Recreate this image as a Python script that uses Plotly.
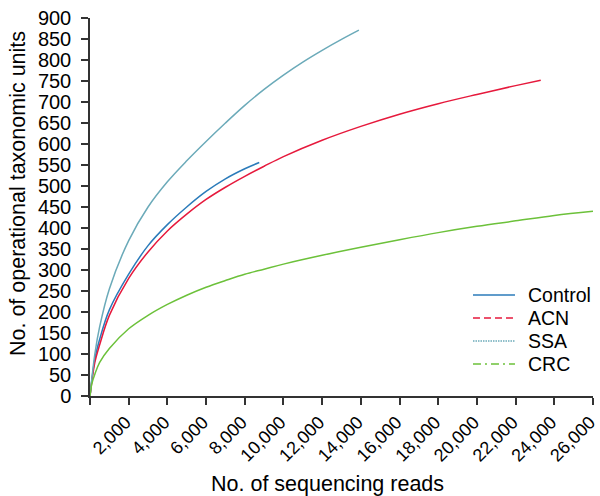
import plotly.graph_objects as go

# ---- data ----
control_x = [0, 250, 500, 1000, 2000, 3000, 4000, 5000, 6000, 7000, 8000, 8750]
control_y = [0, 88, 135, 205, 290, 358, 408, 450, 487, 517, 541, 556]

acn_x = [0, 250, 500, 1000, 2000, 3000, 4000, 5000, 6000, 7000, 8000, 9000, 10000,
         12000, 14000, 16000, 18000, 20000, 22000, 23300]
acn_y = [0, 80, 122, 192, 280, 343, 393, 433, 468, 497, 523, 547, 570,
         609, 642, 671, 696, 718, 739, 752]

ssa_x = [0, 250, 500, 1000, 2000, 3000, 4000, 5000, 6000, 7000, 8000, 9000, 10000,
         11000, 12000, 13000, 13900]
ssa_y = [0, 100, 165, 255, 370, 450, 510, 560, 606, 650, 692, 730, 764,
         795, 823, 849, 871]

crc_x = [0, 100, 250, 500, 1000, 2000, 3000, 4000, 5000, 6000, 7000, 8000, 9000, 10000,
         12000, 14000, 16000, 18000, 20000, 22000, 24000, 26000]
crc_y = [0, 30, 52, 80, 113, 160, 192, 218, 240, 259, 275, 290, 302, 314,
         335, 354, 372, 389, 404, 417, 430, 440]

series_names = ["Control", "ACN", "SSA", "CRC"]
x_tick_vals = [0, 2000, 4000, 6000, 8000, 10000, 12000, 14000, 16000, 18000,
               20000, 22000, 24000, 26000]
x_tick_text = ["", "2,000", "4,000", "6,000", "8,000", "10,000", "12,000", "14,000",
               "16,000", "18,000", "20,000", "22,000", "24,000", "26,000"]
y_tick_vals = list(range(0, 901, 50))
x_title = "No. of sequencing reads"
y_title = "No. of operational taxonomic units"

colors = ["#2b7bba", "#e6193c", "#6baab9", "#6cc13a"]
legend_dash = ["solid", "7px,4px", "1.5px,1px", "8px,4px,2px,4px"]

FONT = "Liberation Sans, Arial, sans-serif"

fig = go.Figure()
all_data = [(control_x, control_y), (acn_x, acn_y), (ssa_x, ssa_y), (crc_x, crc_y)]
for (xs, ys), name, c in zip(all_data, series_names, colors):
    fig.add_trace(go.Scatter(x=xs, y=ys, mode="lines", name=name, showlegend=False,
                             line=dict(color=c, width=1.5, shape="spline", smoothing=1.0)))

# manual legend (compact spacing, dashed samples as in the reference)
leg_x0, leg_x1, leg_tx = 0.7614, 0.8449, 0.8668
leg_y = [0.2672, 0.2063, 0.1455, 0.0847]
shapes, annotations = [], []
for name, c, d, yy in zip(series_names, colors, legend_dash, leg_y):
    shapes.append(dict(type="line", xref="paper", yref="paper", x0=leg_x0, x1=leg_x1,
                       y0=yy, y1=yy, line=dict(color=c, width=1.5, dash=d)))
    annotations.append(dict(text=name, xref="paper", yref="paper", x=leg_tx, y=yy,
                            xanchor="left", yanchor="middle", showarrow=False,
                            font=dict(size=19.5, color="black")))

# axis titles (placed as in the reference)
annotations.append(dict(text=x_title, xref="paper", yref="paper", x=0.472, y=-0.2328,
                        xanchor="center", yanchor="middle", showarrow=False,
                        font=dict(size=21.5, color="black")))
annotations.append(dict(text=y_title, xref="paper", yref="paper", x=-0.1431, y=0.5344,
                        xanchor="center", yanchor="middle", showarrow=False, textangle=-90,
                        font=dict(size=21.5, color="black")))

fig.update_layout(
    width=600, height=496,
    margin=dict(l=90, r=7, t=18, b=100),
    paper_bgcolor="white", plot_bgcolor="white",
    font=dict(family=FONT, size=20, color="black"),
    showlegend=False,
    shapes=shapes, annotations=annotations,
)
fig.update_xaxes(
    range=[0, 26001], tickvals=x_tick_vals, ticktext=x_tick_text, tickangle=-45,
    showgrid=False, zeroline=False, showline=True, linecolor="#333333", linewidth=1.5,
    ticks="outside", ticklen=7, tickwidth=1.5, tickcolor="#333333",
    tickfont=dict(size=18), ticklabeloverflow="allow", ticklabelshift=-3,
    automargin=False,
)
fig.update_yaxes(
    range=[0, 900], tickvals=y_tick_vals,
    showgrid=False, zeroline=False, showline=True, linecolor="#333333", linewidth=1.5,
    ticks="outside", ticklen=7, tickwidth=1.5, tickcolor="#333333",
    tickfont=dict(size=20), ticklabelstandoff=6, automargin=False,
)

fig.write_html("out.html")
